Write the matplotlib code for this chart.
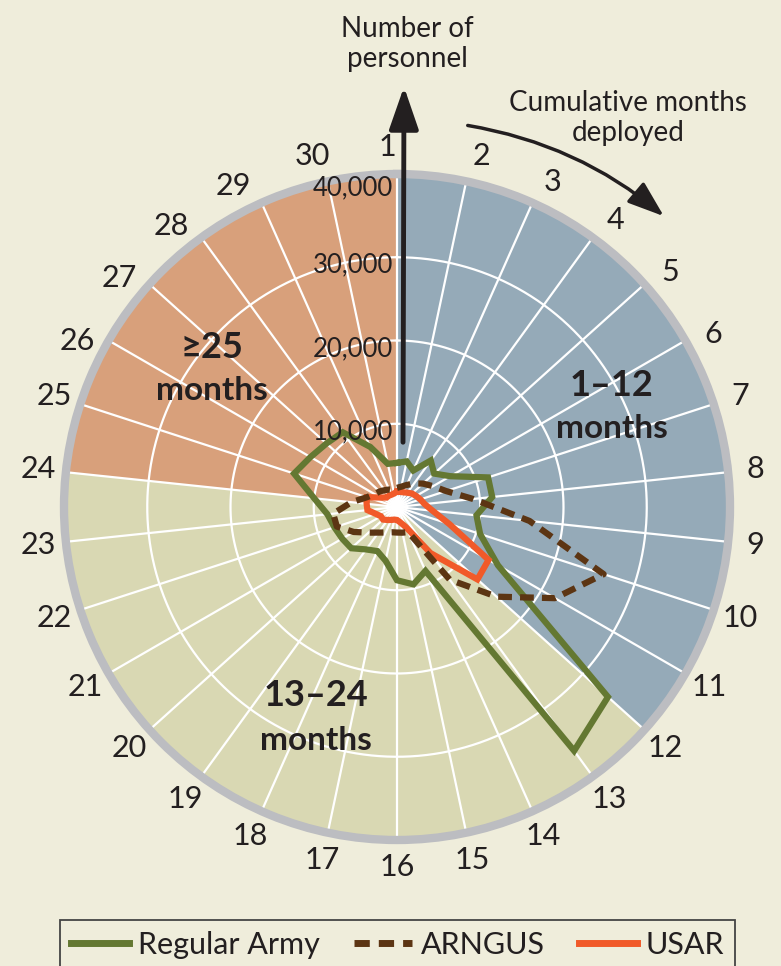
import numpy as np
import matplotlib
matplotlib.use("Agg")
import matplotlib.pyplot as plt
from matplotlib.patches import FancyArrowPatch

plt.rcParams['font.family'] = ['Lato', 'DejaVu Sans']

# === DATA (personnel by cumulative months deployed) ===
months = list(range(1, 31))
regular_army = [5300, 5600, 4800, 6900, 6000, 7400, 11500, 11500, 9600, 10500,
                14000, 34100, 36200, 8400, 9500, 8800, 6600, 5800, 6300, 7400,
                7600, 7900, 8400, 10000, 13000, 12000, 11400, 11100, 7900, 5300]
arngus = [2300, 2500, 2900, 3500, 4200, 5000, 6200, 9200, 16000, 26100,
          21900, 16100, 10800, 3300, 3150, 3070, 3100, 3350, 3800, 4600,
          6000, 7600, 7700, 5500, 3800, 3100, 2800, 2500, 2300, 2100]
usar = [1850, 1850, 1930, 2120, 2420, 2650, 2950, 3340, 4300, 6600,
        12700, 13000, 6840, 2640, 1890, 1560, 1550, 1700, 1930, 2250,
        2230, 2670, 3570, 3670, 3790, 2280, 1700, 1670, 1620, 1660]

r_ticks = [10000, 20000, 30000, 40000]
r_tick_labels = ["10,000", "20,000", "30,000", "40,000"]
# zones start/end on these month spokes
zone_edges = [1, 12, 24, 31]
zone_titles = ["1\u201312", "13\u201324", "\u226525"]

# === STYLE ===
BG = "#EFEDDB"
ZONE_COLORS = ["#95AAB8", "#D9D8B3", "#D8A07B"]
RING = "#BCBDC1"
TXT = "#231F20"
C_RA, C_AR, C_US = "#647832", "#5C3513", "#F15A29"

W, H = 781, 966
fig = plt.figure(figsize=(W / 100, H / 100), dpi=100, facecolor=BG)
cx, cy, R = 397, 507, 333
ax = fig.add_axes([(cx - R) / W, (H - cy - R) / H, 2 * R / W, 2 * R / H],
                  projection="polar")
ax.set_theta_zero_location("N")
ax.set_theta_direction(-1)
ax.set_ylim(0, 40000)
ax.set_facecolor(BG)
ax.grid(False)
ax.set_xticks([])
ax.set_yticks([])

step = 2 * np.pi / 30
def ang(m):
    return (np.asarray(m) - 1) * step

# zone wedges
for i in range(3):
    a0, a1 = ang(zone_edges[i]), ang(zone_edges[i + 1])
    ax.bar(a0, 40000, width=a1 - a0, bottom=0, align="edge",
           color=ZONE_COLORS[i], edgecolor="none", zorder=1)

# grid: spokes + rings
for m in months:
    ax.plot([ang(m), ang(m)], [0, 40000], color="white", lw=1.6, zorder=2)
circ = np.linspace(0, 2 * np.pi, 400)
for r in r_ticks[:-1]:
    ax.plot(circ, np.full_like(circ, r), color="white", lw=1.6, zorder=2)

ax.spines["polar"].set_color(RING)
ax.spines["polar"].set_linewidth(6)
ax.spines["polar"].set_zorder(6)

# series
def closed(vals):
    return np.append(ang(months), ang(1)), np.append(vals, vals[0])

l_ra, = ax.plot(*closed(regular_army), color=C_RA, lw=4.5, zorder=3,
                solid_joinstyle="miter", label="Regular Army")
l_us, = ax.plot(*closed(usar), color=C_US, lw=4.5, zorder=4,
                solid_joinstyle="miter", label="USAR")
l_ar, = ax.plot(*closed(arngus), color=C_AR, lw=4.5, zorder=5,
                linestyle=(0, (2.2, 1.3)), dash_capstyle="butt", label="ARNGUS")

# month labels (small nudges where the original spreads them near the top)
nudge = {1: -1.5, 2: 1.5, 3: 1.5, 4: 1.3, 5: 1.3, 6: 1.3,
         26: -2.5, 27: -2.5, 28: -2.7, 29: -3.0, 30: -1.5}
for m in months:
    off = np.deg2rad(nudge.get(m, 0))
    ax.text(ang(m) + off, 43300, str(m), ha="center", va="center",
            fontsize=22, color=TXT, zorder=7)

# radial tick labels
for r, lab in zip(r_ticks, r_tick_labels):
    dy = -14 if r == 40000 else -8
    ax.annotate(lab, xy=(0, r), xytext=(-4, dy), textcoords="offset pixels",
                ha="right", va="center", fontsize=18.5, color=TXT, zorder=7)

# zone titles
zone_pos = [(612, 385, 428), (316, 695, 740), (212, 347, 390)]
for (x, y1, y2), t in zip(zone_pos, zone_titles):
    fig.text(x / W, 1 - y1 / H, t, ha="center", va="center", fontsize=26,
             fontweight="bold", color=TXT)
    fig.text(x / W, 1 - y2 / H, "months", ha="center", va="center",
             fontsize=24, fontweight="bold", color=TXT)

# vertical axis arrow
fig.add_artist(FancyArrowPatch((403 / W, 1 - 445 / H), (404 / W, 1 - 84 / H),
                               transform=fig.transFigure,
                               arrowstyle="-|>,head_length=1.3,head_width=0.45",
                               mutation_scale=20, lw=3.5, color=TXT, zorder=10))
fig.text(407 / W, 1 - 44 / H, "Number of\npersonnel", ha="center", va="center",
         fontsize=20, color=TXT, linespacing=1.2)

# curved direction arrow
fig.add_artist(FancyArrowPatch((465 / W, 1 - 125 / H), (666 / W, 1 - 218 / H),
                               transform=fig.transFigure,
                               connectionstyle="arc3,rad=-0.14",
                               arrowstyle="-|>,head_length=1.4,head_width=0.5",
                               mutation_scale=16, lw=2.5, color=TXT))
fig.text(628 / W, 1 - 118 / H, "Cumulative months\ndeployed", ha="center",
         va="center", fontsize=20, color=TXT, linespacing=1.2)

# legend
leg = fig.legend(handles=[l_ra, l_ar, l_us], loc="upper left",
                 bbox_to_anchor=(60 / W, 1 - 920 / H, 675 / W, 0), mode="expand",
                 ncol=3, fontsize=22, frameon=True, fancybox=False,
                 facecolor=BG, edgecolor="#444444", framealpha=1,
                 handlelength=1.9, handletextpad=0.3, borderpad=0.35,
                 borderaxespad=0, columnspacing=1.0)
leg.get_frame().set_linewidth(1.3)
for h in leg.legend_handles:
    h.set_linewidth(5)
for t in leg.get_texts():
    t.set_color(TXT)

fig.savefig("out.png", dpi=100, facecolor=BG)
